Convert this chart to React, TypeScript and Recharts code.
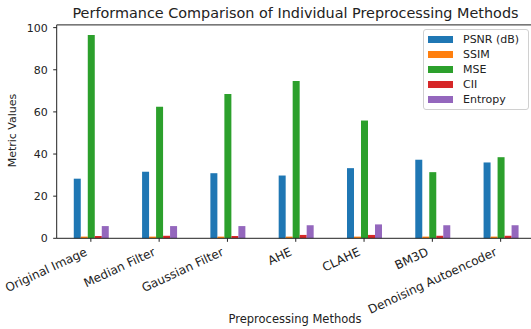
import { BarChart, Bar, XAxis, YAxis, ReferenceLine } from 'recharts';

// values
const methods = ['Original Image', 'Median Filter', 'Gaussian Filter', 'AHE', 'CLAHE', 'BM3D', 'Denoising Autoencoder'];
const psnr = [28.3, 31.6, 30.9, 29.8, 33.3, 37.3, 36.0];
const ssim = [0.8, 0.8, 0.8, 0.8, 0.8, 0.8, 0.8];
const mse = [96.5, 62.5, 68.5, 74.7, 55.9, 31.4, 38.5];
const cii = [1.1, 1.2, 1.1, 1.6, 1.6, 1.2, 1.2];
const entropy = [5.8, 5.8, 5.8, 6.2, 6.6, 6.2, 6.2];
const yTicks = [0, 20, 40, 60, 80, 100];

const series = [
  { key: 'psnr', name: 'PSNR (dB)', color: '#1f77b4' },
  { key: 'ssim', name: 'SSIM', color: '#ff7f0e' },
  { key: 'mse', name: 'MSE', color: '#2ca02c' },
  { key: 'cii', name: 'CII', color: '#d62728' },
  { key: 'entropy', name: 'Entropy', color: '#9467bd' },
];

const data = methods.map((name, i) => ({
  name,
  psnr: psnr[i],
  ssim: ssim[i],
  mse: mse[i],
  cii: cii[i],
  entropy: entropy[i],
}));

const FONT = 'DejaVu Sans, sans-serif';
const yMax = 101.3;

const XTick = (props: any) => {
  const { x, y, payload } = props;
  return (
    <g transform={`translate(${x - 3},${y + 13})`}>
      <text x={0} y={0} textAnchor="end" transform="rotate(-25)" fontSize={12} fontFamily={FONT} fill="#222">
        {payload.value}
      </text>
    </g>
  );
};

const LegendBox = () => (
  <div
    style={{
      position: 'absolute', left: 423, top: 29, width: 94,
      border: '1px solid #d0d0d0',
      borderRadius: 3,
      background: 'rgba(255,255,255,0.85)',
      padding: '2px 6px 2px 4px',
      fontFamily: FONT,
      fontSize: 11,
      color: '#222',
    }}
  >
    {series.map((s) => (
      <div key={s.key} style={{ display: 'flex', alignItems: 'center', height: 15 }}>
        <span style={{ display: 'inline-block', width: 25, height: 7, background: s.color, marginRight: 10 }} />
        <span>{s.name}</span>
      </div>
    ))}
  </div>
);

export default function App() {
  return (
    <div style={{ position: 'absolute', left: 0, top: 0, width: 531, height: 329, overflow: 'hidden', background: '#fff' }}>
      <BarChart
        width={540}
        height={329}
        data={data}
        margin={{ top: 24.9, right: 5.2, bottom: 0, left: 0 }}
        barCategoryGap="25%"
        barGap={0}
      >
        <XAxis
          dataKey="name"
          interval={0}
          tickSize={3.5}
          tickMargin={0}
          height={90.7}
          tick={<XTick />}
          stroke="#222"
        />
        <YAxis
          domain={[0, yMax]}
          ticks={yTicks}
          width={56.7}
          tickSize={3.5}
          tickMargin={5.5}
          stroke="#222"
          tick={{ fontSize: 11, fontFamily: FONT, fill: '#222' }}
        />
        <ReferenceLine y={yMax} stroke="#222" ifOverflow="visible" />
        {series.map((s) => (
          <Bar key={s.key} dataKey={s.key} name={s.name} fill={s.color} isAnimationActive={false} />
        ))}
      </BarChart>
      <div
        style={{
          position: 'absolute', left: 0, width: 591, top: 5, textAlign: 'center',
          fontFamily: FONT, fontSize: 14.4, color: '#222', whiteSpace: 'nowrap',
        }}
      >
        Performance Comparison of Individual Preprocessing Methods
      </div>
      <div
        style={{
          position: 'absolute', left: 215, width: 160, top: 312, textAlign: 'center',
          fontFamily: FONT, fontSize: 11.5, color: '#222',
        }}
      >
        Preprocessing Methods
      </div>
      <div
        style={{
          position: 'absolute', left: 12 - 50, width: 100, top: 131 - 7, textAlign: 'center',
          fontFamily: FONT, fontSize: 11, color: '#222', transform: 'rotate(-90deg)',
        }}
      >
        Metric Values
      </div>
      <LegendBox />
    </div>
  );
}
